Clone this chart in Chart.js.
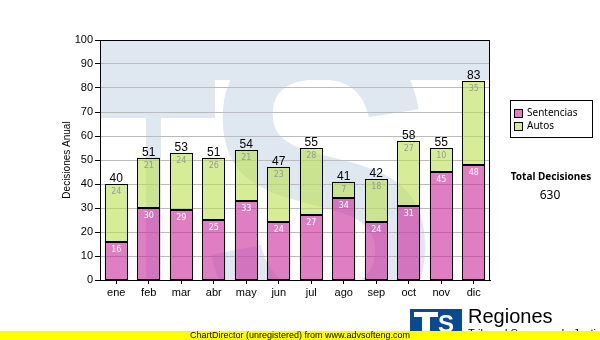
<!DOCTYPE html>
<html>
<head>
<meta charset="utf-8">
<title>Decisiones Anual</title>
<script src="https://cdn.jsdelivr.net/npm/chart.js@4.4.1/dist/chart.umd.min.js"></script>
<style>
  html, body { margin: 0; padding: 0; background: #fff; }
  #wrap { width: 600px; height: 340px; position: relative; }
</style>
</head>
<body>
<div id="wrap"><canvas id="decisiones"></canvas></div>
<script>
  // ------------------------------------------------------
  // @Datos
  // ------------------------------------------------------
  const MESES      = ['ene', 'feb', 'mar', 'abr', 'may', 'jun', 'jul', 'ago', 'sep', 'oct', 'nov', 'dic'];
  const SENTENCIAS = [16, 30, 29, 25, 33, 24, 27, 34, 24, 31, 45, 48];
  const AUTOS      = [24, 21, 24, 26, 21, 23, 28, 7, 18, 27, 10, 35];
  const Y_MAX      = 100;
  const Y_PASO     = 10;

  const ARIAL  = '"Liberation Sans", Arial, sans-serif';
  const TAHOMA = '"Noto Sans", "DejaVu Sans", sans-serif';

  const ROSA  = 'rgba(203, 40, 157, 0.6)';
  const VERDE = 'rgba(187, 223, 80, 0.6)';
  const AZUL_MARCA = '#dfe8f1';
  const AZUL_LOGO  = '#0b4a8e';

  const totales = MESES.map((m, i) => SENTENCIAS[i] + AUTOS[i]);
  const totalDecisiones = totales.reduce((a, b) => a + b, 0);

  // fondo blanco + marca de agua "TS" dentro del area del grafico
  const marcaAgua = {
    id: 'marcaAgua',
    beforeDraw(chart) {
      const { ctx, chartArea: a } = chart;
      ctx.save();
      ctx.fillStyle = '#fff';
      ctx.fillRect(0, 0, chart.width, chart.height);

      ctx.beginPath();
      ctx.rect(a.left, a.top, a.right - a.left, a.bottom - a.top);
      ctx.clip();
      ctx.fillStyle = AZUL_MARCA;
      ctx.fillRect(a.left, a.top, a.right - a.left, 40);
      ctx.fillRect(a.left, a.top, 115, 78);
      ctx.fillRect(a.left + 46, a.top, 15, a.bottom - a.top);

      ctx.translate(320, 330);
      ctx.scale(0.85, 1);
      ctx.font = 'bold 420px ' + ARIAL;
      ctx.textAlign = 'center';
      ctx.textBaseline = 'alphabetic';
      ctx.fillText('S', 0, 0);
      ctx.restore();
    },
  };

  // contorno negro de cada segmento, valores y total encima de la pila
  const etiquetas = {
    id: 'etiquetas',
    afterDatasetsDraw(chart) {
      const { ctx } = chart;
      ctx.save();
      ctx.strokeStyle = '#000';
      ctx.lineWidth = 1;
      chart.data.datasets.forEach((ds, di) => {
        chart.getDatasetMeta(di).data.forEach((bar) => {
          const { x, y, base, width } = bar.getProps(['x', 'y', 'base', 'width'], true);
          const l = Math.round(x - width / 2) + 0.5;
          const r = Math.round(x + width / 2) - 0.5;
          const t = Math.round(y) + 0.5;
          const b = Math.round(base) - 0.5;
          ctx.strokeRect(l, t, r - l, b - t);
        });
      });

      ctx.textAlign = 'center';
      ctx.textBaseline = 'middle';
      ctx.font = '8px "DejaVu Sans", sans-serif';
      chart.data.datasets.forEach((ds, di) => {
        ctx.fillStyle = di === 0 ? '#ffffff' : '#999999';
        chart.getDatasetMeta(di).data.forEach((bar, i) => {
          ctx.fillText(String(ds.data[i]), bar.x, bar.y + 8);
        });
      });

      ctx.fillStyle = '#000';
      ctx.font = '12px ' + ARIAL;
      ctx.textBaseline = 'alphabetic';
      chart.getDatasetMeta(1).data.forEach((bar, i) => {
        ctx.fillText(String(totales[i]), bar.x, bar.y - 2);
      });
      ctx.restore();
    },
  };

  // marco del grafico, leyenda, total, logo y franja inferior
  const extras = {
    id: 'extras',
    afterDraw(chart) {
      const { ctx, chartArea: a } = chart;
      ctx.save();
      ctx.strokeStyle = '#000';
      ctx.lineWidth = 1;
      ctx.strokeRect(a.left + 0.5, a.top + 0.5, a.right - a.left - 1, a.bottom - a.top);

      // leyenda
      const lx = a.right + 20, ly = a.top + 60;
      ctx.fillStyle = '#fff';
      ctx.fillRect(lx, ly, 82, 37);
      ctx.strokeRect(lx + 0.5, ly + 0.5, 82, 37);
      ctx.font = '10px ' + TAHOMA;
      ctx.textAlign = 'left';
      ctx.textBaseline = 'middle';
      chart.data.datasets.forEach((ds, di) => {
        const cy = ly + 13 + di * 13;
        ctx.fillStyle = '#fff';
        ctx.fillRect(lx + 4, cy - 4, 8, 8);
        ctx.fillStyle = ds.backgroundColor;
        ctx.fillRect(lx + 4, cy - 4, 8, 8);
        ctx.strokeRect(lx + 4.5, cy - 3.5, 8, 8);
        ctx.fillStyle = '#000';
        ctx.fillText(ds.label, lx + 17, cy);
      });

      // total
      ctx.textAlign = 'center';
      ctx.font = 'bold 10px ' + TAHOMA;
      ctx.fillText('Total Decisiones', lx + 41, 177);
      ctx.font = '12px ' + TAHOMA;
      ctx.fillText(String(totalDecisiones), lx + 40, 196);

      // logo
      ctx.fillStyle = AZUL_LOGO;
      ctx.fillRect(410, 309, 52, 25);
      ctx.fillStyle = '#fff';
      ctx.fillRect(414, 312, 24, 5);
      ctx.fillRect(422, 312, 8, 22);
      ctx.font = 'bold 24px ' + ARIAL;
      ctx.textAlign = 'left';
      ctx.textBaseline = 'alphabetic';
      ctx.fillText('S', 438, 332);

      ctx.fillStyle = '#000';
      ctx.font = '20px ' + ARIAL;
      ctx.fillText('Regiones', 468, 323);
      ctx.font = '11px ' + ARIAL;
      ctx.textBaseline = 'top';
      ctx.fillText('Tribunal Supremo de Justicia', 468, 328);

      // franja amarilla
      ctx.fillStyle = '#ffff00';
      ctx.fillRect(0, 331, chart.width, 9);
      ctx.fillStyle = '#000';
      ctx.font = '9px ' + ARIAL;
      ctx.textAlign = 'center';
      ctx.textBaseline = 'middle';
      ctx.fillText('ChartDirector (unregistered) from www.advsofteng.com', 300, 336);
      ctx.restore();
    },
  };

  const box = document.getElementById('decisiones');
  new Chart(box.getContext('2d'), {
    type: 'bar',
    data: {
      labels: MESES,
      datasets: [{
        label           : 'Sentencias',
        data            : SENTENCIAS,
        backgroundColor : ROSA,
        borderWidth     : 0,
        barPercentage   : 0.7,
        categoryPercentage: 1,
      }, {
        label           : 'Autos',
        data            : AUTOS,
        backgroundColor : VERDE,
        borderWidth     : 0,
        barPercentage   : 0.7,
        categoryPercentage: 1,
      }],
    },
    options: {
      responsive: true,
      maintainAspectRatio: false,
      animation: false,
      events: [],
      layout: { padding: { left: 0, right: 110, top: 40, bottom: 40 } },
      plugins: {
        legend: { display: false },
        tooltip: { enabled: false },
      },
      scales: {
        x: {
          stacked: true,
          afterFit: (s) => { s.height = 20; },
          grid: { drawOnChartArea: false, offset: false, tickLength: 4, tickColor: '#000' },
          border: { color: '#000' },
          ticks: { color: '#000', font: { family: ARIAL, size: 11 }, padding: 2 },
        },
        y: {
          stacked: true,
          min: 0,
          max: Y_MAX,
          afterFit: (s) => { s.width = 100; },
          grid: { color: '#bbbbbb', tickLength: 5, tickColor: '#000' },
          border: { color: '#000' },
          ticks: { stepSize: Y_PASO, color: '#000', font: { family: ARIAL, size: 11 }, padding: 2 },
          title: {
            display: true,
            text: 'Decisiones Anual',
            color: '#000',
            font: { family: ARIAL, size: 10 },
            padding: { top: 61, bottom: 0 },
          },
        },
      },
    },
    plugins: [marcaAgua, etiquetas, extras],
  });
</script>
</body>
</html>
